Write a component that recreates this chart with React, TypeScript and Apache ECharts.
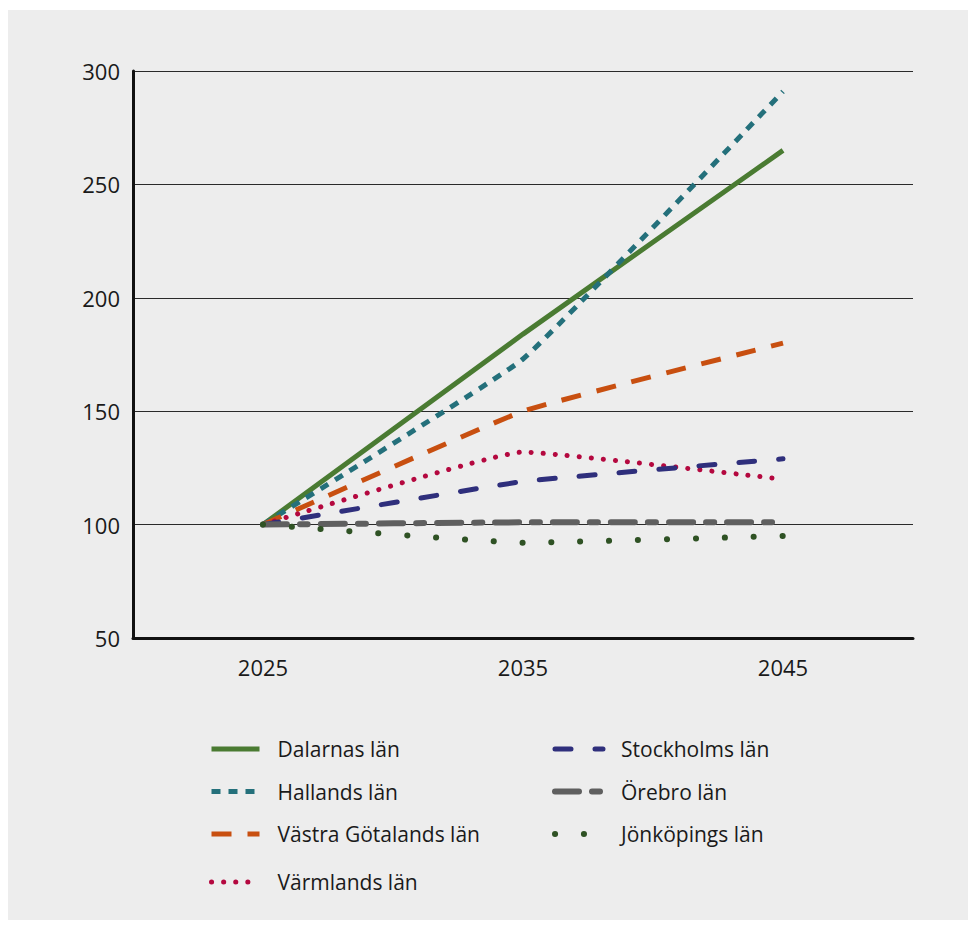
import React, { useEffect, useRef } from "react";
import * as echarts from "echarts";

// Index (2025 = 100) per county
const years = ["2025", "2035", "2045"];
const dalarnas = [100, 184, 265];
const hallands = [100, 173, 291];
const vastraGotalands = [100, 150, 180];
const varmlands = [100, 132, 120];
const stockholms = [100, 119, 129];
const orebro = [100, 101, 101];
const jonkopings = [100, 92, 95];

const yMin = 50;
const yMax = 300;
const yStep = 50;

const FONT = "'Open Sans', 'Noto Sans', sans-serif";

type SeriesDef = {
  name: string;
  data: number[];
  color: string;
  width: number;
  dash: "solid" | number[];
  cap: "butt" | "round";
};

const seriesDefs: SeriesDef[] = [
  { name: "Dalarnas län", data: dalarnas, color: "#4a7b32", width: 5, dash: "solid", cap: "butt" },
  { name: "Hallands län", data: hallands, color: "#24707b", width: 5, dash: [9, 8], cap: "butt" },
  { name: "Västra Götalands län", data: vastraGotalands, color: "#c84f10", width: 5, dash: [20, 16], cap: "butt" },
  { name: "Värmlands län", data: varmlands, color: "#b4083f", width: 5, dash: [0.1, 12], cap: "round" },
  { name: "Stockholms län", data: stockholms, color: "#2f2f7c", width: 5, dash: [16, 24], cap: "round" },
  { name: "Örebro län", data: orebro, color: "#5f5f5f", width: 6, dash: [24, 13, 8, 13], cap: "round" },
  { name: "Jönköpings län", data: jonkopings, color: "#2f5224", width: 6, dash: [0.1, 28.8], cap: "round" },
];

const legendLeft = ["Dalarnas län", "Hallands län", "Västra Götalands län"];
const legendLeftBottom = ["Värmlands län"];
const legendRight = ["Stockholms län", "Örebro län", "Jönköpings län"];

export default function App() {
  const ref = useRef<HTMLDivElement>(null);

  useEffect(() => {
    if (!ref.current) return;
    const chart = echarts.init(ref.current, null, { renderer: "svg" });

    const legendBase = {
      orient: "vertical" as const,
      padding: 0,
      itemWidth: 48,
      itemHeight: 14,
      itemGap: 20.5,
      selectedMode: false,
      textStyle: {
        fontFamily: FONT,
        fontSize: 21,
        color: "#1a1a1a",
        lineHeight: 22,
        padding: [0, 0, 0, 13],
      },
      lineStyle: { width: "inherit" },
      itemStyle: { opacity: 0 },
    };

    chart.setOption({
      animation: false,
      backgroundColor: "#ededed",
      grid: { left: 125, right: 55, top: 61, bottom: 282, containLabel: false },
      xAxis: {
        type: "category",
        data: years,
        boundaryGap: true,
        axisLine: { show: true, lineStyle: { color: "#111", width: 3 } },
        axisTick: { show: false },
        axisLabel: { color: "#1a1a1a", fontFamily: FONT, fontSize: 22, margin: 18 },
        splitLine: { show: false },
      },
      yAxis: {
        type: "value",
        min: yMin,
        max: yMax,
        interval: yStep,
        axisLine: { show: true, lineStyle: { color: "#111", width: 3 } },
        axisTick: { show: false },
        axisLabel: { color: "#1a1a1a", fontFamily: FONT, fontSize: 22, margin: 13 },
        splitLine: { show: true, lineStyle: { color: "#2a2a2a", width: 1 } },
      },
      legend: [
        { ...legendBase, data: legendLeft, left: 201, top: 728 },
        { ...legendBase, data: legendLeftBottom, left: 201, top: 861 },
        { ...legendBase, data: legendRight, left: 544, top: 728 },
      ],
      series: seriesDefs.map((s) => ({
        name: s.name,
        type: "line",
        data: s.data,
        smooth: 0.1,
        symbol: "none",
        showSymbol: false,
        color: s.color,
        lineStyle: { color: s.color, width: s.width, type: s.dash, cap: s.cap },
        emphasis: { disabled: true },
      })),
    });

    return () => chart.dispose();
  }, []);

  return (
    <div
      ref={ref}
      style={{ width: 960, height: 910, marginTop: 2, background: "#ededed" }}
    />
  );
}
